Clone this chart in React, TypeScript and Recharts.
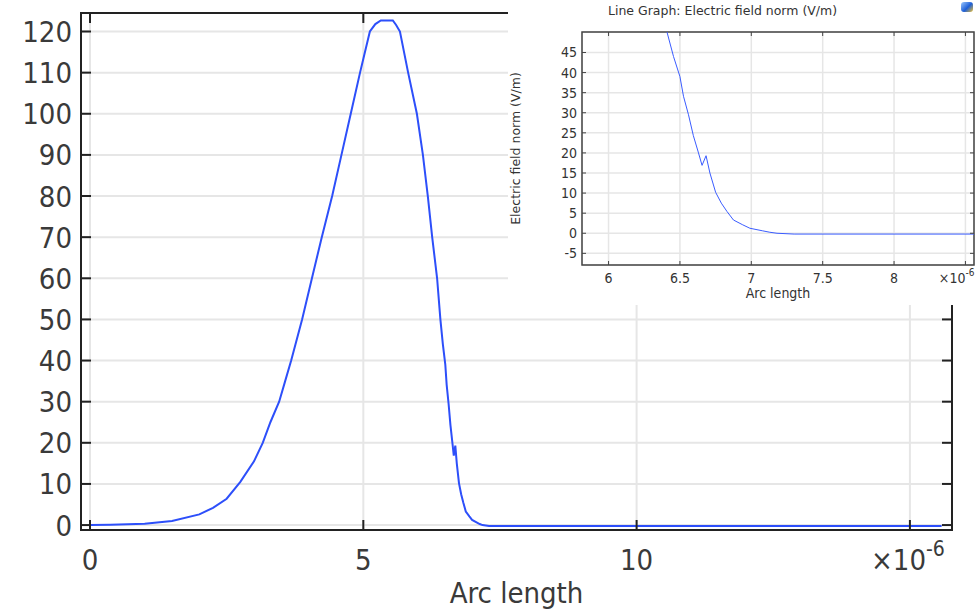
import React from 'react';
import { LineChart, Line, XAxis, YAxis, CartesianGrid, ReferenceArea } from 'recharts';

// arc length is in units of 1e-6, field norm in V/m
const arcLength = [
  0, 0.37, 1.0, 1.5, 2.0, 2.25, 2.5, 2.75, 3.0, 3.16, 3.3, 3.46, 3.57, 3.68, 3.88,
  4.06, 4.24, 4.43, 4.6, 4.77, 4.94, 5.03, 5.12, 5.22, 5.32, 5.54, 5.6, 5.67, 5.82,
  5.98, 6.09, 6.18, 6.26, 6.35, 6.41, 6.455, 6.5, 6.525, 6.56, 6.594, 6.63, 6.655,
  6.683, 6.71, 6.75, 6.79, 6.83, 6.875, 6.94, 6.99, 7.08, 7.13, 7.18, 7.3, 15.58,
];
const fieldNorm = [
  0, 0.05, 0.3, 1.0, 2.6, 4.2, 6.4, 10.5, 15.5, 20, 25, 30, 35, 40, 50,
  60, 70, 80, 90, 100, 110, 115, 120, 121.8, 122.7, 122.7, 121.6, 120, 110,
  100, 90, 80, 70, 60, 50, 44, 39, 34.1, 29.5, 24.3, 20, 16.9,
  19.3, 15, 10.2, 7.5, 5.4, 3.3, 2.1, 1.25, 0.6, 0.25, 0, -0.2, -0.2,
];

const mainXTicks = [0, 5, 10, 15];
const mainYTicks = [0, 10, 20, 30, 40, 50, 60, 70, 80, 90, 100, 110, 120];
const insetXTicks = [6, 6.5, 7, 7.5, 8, 8.5];
const insetYTicks = [-5, 0, 5, 10, 15, 20, 25, 30, 35, 40, 45];

const data = arcLength.map((s, i) => ({ s, e: fieldNorm[i] }));

const FONT = '"DejaVu Sans Condensed", "DejaVu Sans", sans-serif';
const MAIN_X = [-0.165, 15.77];
const MAIN_Y = [-1.2, 124.5];
const INSET_X = [5.814, 8.56];
const INSET_Y = [-7.9, 50.1];

// main plot box (page pixels)
const mainBox = { left: 81, top: 13, right: 952, bottom: 530 };
// inset plot box (inset pixels)
const insetBox = { left: 74, top: 32, right: 466, bottom: 265 };

const MainYTick = (props: any) => {
  const { x, y, payload } = props;
  const edge = x + 9;
  return (
    <g>
      <line x1={edge} x2={edge + 10} y1={y} y2={y} stroke="#222" strokeWidth={2} />
      <line x1={mainBox.right} x2={mainBox.right - 10} y1={y} y2={y} stroke="#222" strokeWidth={2} />
      <text x={x} y={y + 10.5} textAnchor="end" fontSize={29} fill="#3a3a3a" fontFamily={FONT}>
        {payload.value}
      </text>
    </g>
  );
};

const MainXTick = (props: any) => {
  const { x, y, payload } = props;
  const edge = y - 10;
  return (
    <g>
      <line x1={x} x2={x} y1={edge} y2={edge - 10} stroke="#222" strokeWidth={2} />
      <line x1={x} x2={x} y1={mainBox.top} y2={mainBox.top + 10} stroke="#222" strokeWidth={2} />
      {payload.value === 15 ? (
        <text x={x - 2} y={edge + 40} textAnchor="middle" fontSize={29} fill="#3a3a3a" fontFamily={FONT}>
          <tspan>×10</tspan>
          <tspan dy={-14} fontSize={21}>-6</tspan>
        </text>
      ) : (
        <text x={x} y={edge + 40} textAnchor="middle" fontSize={29} fill="#3a3a3a" fontFamily={FONT}>
          {payload.value}
        </text>
      )}
    </g>
  );
};

const InsetYTick = (props: any) => {
  const { x, y, payload } = props;
  const edge = x + 5;
  return (
    <g>
      <line x1={edge} x2={edge + 4} y1={y} y2={y} stroke="#444" strokeWidth={1} />
      <line x1={insetBox.right} x2={insetBox.right - 4} y1={y} y2={y} stroke="#444" strokeWidth={1} />
      <text x={x} y={y + 5} textAnchor="end" fontSize={14} fill="#333" fontFamily={FONT}>
        {payload.value}
      </text>
    </g>
  );
};

const InsetXTick = (props: any) => {
  const { x, y, payload } = props;
  const edge = y - 6;
  return (
    <g>
      <line x1={x} x2={x} y1={edge} y2={edge - 4} stroke="#444" strokeWidth={1} />
      <line x1={x} x2={x} y1={insetBox.top} y2={insetBox.top + 4} stroke="#444" strokeWidth={1} />
      {payload.value === 8.5 ? (
        <text x={x + 9} y={edge + 18} textAnchor="end" fontSize={14} fill="#333" fontFamily={FONT}>
          <tspan>×10</tspan>
          <tspan dy={-7} fontSize={10}>-6</tspan>
        </text>
      ) : (
        <text x={x} y={edge + 18} textAnchor="middle" fontSize={14} fill="#333" fontFamily={FONT}>
          {payload.value}
        </text>
      )}
    </g>
  );
};

export default function App() {
  return (
    <div style={{ position: 'absolute', left: 0, top: 0, width: 978, height: 610, background: '#fff', fontFamily: FONT }}>
      <LineChart width={978} height={610} data={data} margin={{ top: 13, right: 26, bottom: 0, left: 0 }}>
        <CartesianGrid stroke="#e6e6e6" strokeWidth={2} />
        <XAxis
          dataKey="s"
          type="number"
          domain={MAIN_X}
          ticks={mainXTicks}
          interval={0}
          height={80}
          tickSize={0}
          tickMargin={10}
          tickLine={false}
          axisLine={false}
          tick={<MainXTick />}
          label={{ value: 'Arc length', position: 'insideBottom', offset: 7, fontSize: 29, fill: '#3a3a3a', fontFamily: FONT }}
        />
        <YAxis
          type="number"
          domain={MAIN_Y}
          ticks={mainYTicks}
          interval={0}
          width={81}
          tickSize={0}
          tickMargin={9}
          tickLine={false}
          axisLine={false}
          tick={<MainYTick />}
        />
        <Line type="linear" dataKey="e" stroke="#2d4ffa" strokeWidth={2} dot={false} isAnimationActive={false} />
        <ReferenceArea x1={MAIN_X[0]} x2={MAIN_X[1]} y1={MAIN_Y[0]} y2={MAIN_Y[1]} fill="none" stroke="#222" strokeWidth={2} />
      </LineChart>

      <div style={{ position: 'absolute', left: 508, top: 0, width: 470, height: 305, background: '#fff' }}>
        <div style={{ position: 'absolute', left: 100, top: 3, fontSize: 12.5, color: '#333', fontFamily: '"DejaVu Sans", sans-serif', whiteSpace: 'nowrap' }}>
          Line Graph: Electric field norm (V/m)
        </div>
        <div style={{ position: 'absolute', left: 453, top: 2, width: 12, height: 10, borderRadius: 3, background: 'linear-gradient(135deg, #9cc8ff, #1e5fd6 55%, #f2c230)' }} />
        <LineChart width={470} height={305} data={data} margin={{ top: 32, right: 4, bottom: 0, left: 0 }}>
          <CartesianGrid stroke="#e6e6e6" strokeWidth={1.5} />
          <XAxis
            dataKey="s"
            type="number"
            domain={INSET_X}
            allowDataOverflow
            ticks={insetXTicks}
            interval={0}
            height={40}
            tickSize={0}
            tickMargin={6}
            tickLine={false}
            axisLine={false}
            tick={<InsetXTick />}
            label={{ value: 'Arc length', position: 'insideBottom', offset: 7, fontSize: 14, fill: '#333', fontFamily: FONT }}
          />
          <YAxis
            type="number"
            domain={INSET_Y}
            allowDataOverflow
            ticks={insetYTicks}
            interval={0}
            width={74}
            tickSize={0}
            tickMargin={5}
            tickLine={false}
            axisLine={false}
            tick={<InsetYTick />}
            label={{
              value: 'Electric field norm (V/m)',
              angle: -90,
              position: 'insideLeft',
              offset: 8,
              fontSize: 12.5,
              fill: '#333',
              style: { textAnchor: 'middle', fontFamily: '"DejaVu Sans", sans-serif' },
            }}
          />
          <Line type="linear" dataKey="e" stroke="#3a5cff" strokeWidth={1} dot={false} isAnimationActive={false} />
          <ReferenceArea x1={INSET_X[0]} x2={INSET_X[1]} y1={INSET_Y[0]} y2={INSET_Y[1]} fill="none" stroke="#444" strokeWidth={1.5} />
        </LineChart>
      </div>
    </div>
  );
}
